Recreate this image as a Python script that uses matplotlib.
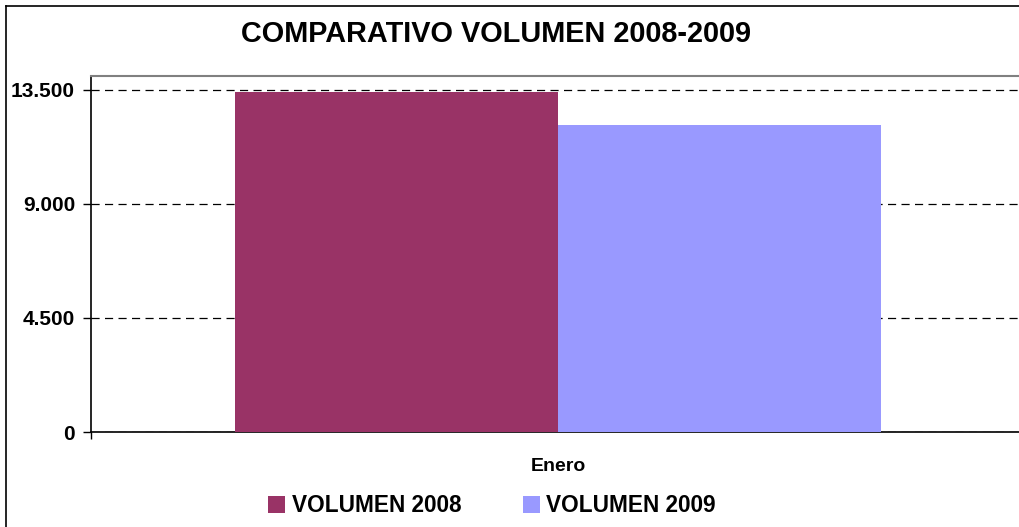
import matplotlib
matplotlib.use("Agg")
import matplotlib.pyplot as plt
from matplotlib.ticker import FuncFormatter, FixedLocator
from matplotlib.patches import Patch
from matplotlib.lines import Line2D

categories = ["Enero"]
series_names = ["VOLUMEN 2008", "VOLUMEN 2009"]
vol_2008 = [13420]
vol_2009 = [12120]
y_ticks = [0, 4500, 9000, 13500]
colors = ["#993366", "#9999FF"]

plt.rcParams['font.family'] = ['Liberation Sans', 'DejaVu Sans']
plt.rcParams['font.weight'] = 'bold'

W, H = 1019, 527
fig = plt.figure(figsize=(W / 100, H / 100), dpi=100)

left, right, top, bottom = 91, 1025, 76, 432
ax = fig.add_axes([left / W, 1 - bottom / H, (right - left) / W, (bottom - top) / H])

bw = 0.346
x = list(range(len(categories)))
ax.bar([i - bw / 2 for i in x], vol_2008, width=bw, color=colors[0], zorder=3, label=series_names[0])
ax.bar([i + bw / 2 for i in x], vol_2009, width=bw, color=colors[1], zorder=3, label=series_names[1])

ax.set_xlim(-0.5, len(categories) - 0.5)
ax.set_ylim(0, 14050)

ax.yaxis.set_major_locator(FixedLocator(y_ticks))
ax.yaxis.set_major_formatter(FuncFormatter(lambda v, p: f"{int(v):,}".replace(",", ".")))
ax.tick_params(axis='y', direction='out', length=6, width=1, pad=5.5, labelsize=15, colors='black')
for lab in ax.get_yticklabels():
    lab.set_fontweight('bold')

ax.set_xticks(x)
ax.set_xticklabels(categories, fontsize=14, fontweight='bold')
ax.tick_params(axis='x', length=0, pad=19)
ax.set_xticks([i - 0.5 for i in range(len(categories) + 1)], minor=True)
ax.tick_params(axis='x', which='minor', direction='out', length=5, width=1)

ax.yaxis.grid(True, color='black', linestyle=(0, (6.5, 4.3)), linewidth=0.9, zorder=1)
ax.set_axisbelow(True)

for s in ['left', 'bottom']:
    ax.spines[s].set_color('black')
    ax.spines[s].set_linewidth(1.2)
ax.spines['top'].set_color('#808080')
ax.spines['top'].set_linewidth(1.5)
ax.spines['right'].set_color('#808080')

fig.text(496 / W, 1 - 34 / H, "COMPARATIVO VOLUMEN 2008-2009", ha='center', va='center',
         fontsize=20.8, fontweight='bold')

handles = [Patch(facecolor=c, edgecolor='none') for c in colors]
fig.legend(handles, series_names, loc='center', bbox_to_anchor=(492 / W, 1 - 506 / H), ncol=2,
           frameon=False, prop={'size': 16.3, 'weight': 'bold'}, handlelength=0.75, handleheight=0.75,
           handletextpad=0.3, columnspacing=2.7)

# outer chart border (top & left visible)
fig.add_artist(Line2D([6 / W, 6 / W], [0, 1 - 6 / H], color='black', linewidth=1.2, transform=fig.transFigure))
fig.add_artist(Line2D([6 / W, 1], [1 - 6 / H, 1 - 6 / H], color='black', linewidth=1.2, transform=fig.transFigure))

fig.savefig("out.png", dpi=100)
